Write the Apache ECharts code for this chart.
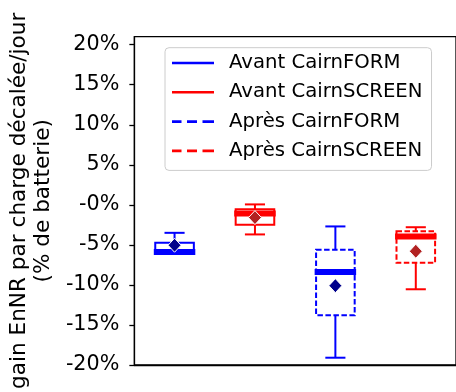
<!DOCTYPE html>
<html>
<head>
<meta charset="utf-8">
<script src="https://cdn.jsdelivr.net/npm/echarts@6/dist/echarts.min.js"></script>
<style>
html,body{margin:0;padding:0;background:#fff;}
#chart{width:456px;height:392px;}
</style>
</head>
<body>
<div id="chart"></div>
<script>
// ---- data ----
const categories = ['Avant CairnFORM', 'Avant CairnSCREEN', 'Après CairnFORM', 'Après CairnSCREEN'];
const boxMin    = [-6.1, -3.7, -19.1, -10.55];
const boxQ1     = [-6.1, -2.5, -13.8, -7.25];
const boxMedian = [-5.9, -1.1, -8.4, -3.95];
const boxQ3     = [-4.75, -0.55, -5.6, -3.3];
const boxMax    = [-3.5, 0.05, -2.7, -2.8];
const boxMean   = [-5.05, -1.6, -10.1, -5.8];
const tickValues = [-20, -15, -10, -5, 0, 5, 10, 15, 20];
const tickLabels = ['-20%', '-15%', '-10%', '-5%', '-0%', '5%', '10%', '15%', '20%'];

// ---- styles ----
const lineColors = ['#0000ff', '#ff0000', '#0000ff', '#ff0000'];
const meanColors = ['#00008b', '#b22222', '#00008b', '#b22222'];
const dashedBox  = [false, false, true, true];
const FONT = 'DejaVu Sans';

function makeRender(i) {
  return function (params, api) {
    const x = api.value(0);
    const band = api.size([1, 0])[0];
    const pt = function (v) { return api.coord([x, v]); };
    const cx = pt(api.value(1))[0];
    const yMin = pt(api.value(1))[1];
    const yQ1 = pt(api.value(2))[1];
    const yMed = pt(api.value(3))[1];
    const yQ3 = pt(api.value(4))[1];
    const yMax = pt(api.value(5))[1];
    const yMean = pt(api.value(6))[1];
    const hw = band * 0.24, cw = band * 0.125, mw = band * 0.258;
    const col = lineColors[i];
    const solid = {stroke: col, lineWidth: 2, fill: null};
    return {
      type: 'group',
      children: [
        {type: 'line', shape: {x1: cx, y1: yQ1, x2: cx, y2: yMin}, style: solid},
        {type: 'line', shape: {x1: cx, y1: yQ3, x2: cx, y2: yMax}, style: solid},
        {type: 'line', shape: {x1: cx - cw, y1: yMin, x2: cx + cw, y2: yMin}, style: solid},
        {type: 'line', shape: {x1: cx - cw, y1: yMax, x2: cx + cw, y2: yMax}, style: solid},
        {type: 'rect', shape: {x: cx - hw, y: yQ3, width: 2 * hw, height: yQ1 - yQ3},
          style: {stroke: col, lineWidth: 2, fill: null, lineDash: dashedBox[i] ? [5.5, 2.5] : null}},
        {type: 'line', shape: {x1: cx - mw, y1: yMed, x2: cx + mw, y2: yMed}, style: {stroke: col, lineWidth: 6}},
        {type: 'polygon', shape: {points: [[cx, yMean - 7], [cx + 6.5, yMean], [cx, yMean + 7], [cx - 6.5, yMean]]},
          style: {fill: meanColors[i], stroke: '#ffffff', lineWidth: 1}}
      ]
    };
  };
}

const series = categories.map(function (name, i) {
  return {
    type: 'custom',
    name: name,
    itemStyle: {color: lineColors[i]},
    renderItem: makeRender(i),
    encode: {x: 0, y: [1, 2, 3, 4, 5, 6]},
    data: [[i, boxMin[i], boxQ1[i], boxMedian[i], boxQ3[i], boxMax[i], boxMean[i]]],
    z: 3
  };
});

const solidIcon = 'path://M0,0H42V2.6H0Z';
const dashIcon = 'path://M0,0H9.5V2.6H0Z M15,0H25V2.6H15Z M30.5,0H42V2.6H30.5Z';

const chart = echarts.init(document.getElementById('chart'), null, {renderer: 'canvas'});
chart.setOption({
  animation: false,
  backgroundColor: '#ffffff',
  grid: {left: 133.3, top: 36.7, width: 330.4, bottom: 25.3, show: true, borderColor: '#000', borderWidth: 1.3, containLabel: false},
  legend: {
    orient: 'vertical', left: 165, top: 47.7,
    padding: [5.3, 9, 9.5, 7],
    itemGap: 9.3, itemWidth: 42, itemHeight: 2.6,
    borderColor: '#cccccc', borderWidth: 1, borderRadius: 4,
    backgroundColor: 'rgba(255,255,255,0.8)',
    textStyle: {fontFamily: FONT, fontSize: 19.7, color: '#000', lineHeight: 20, padding: [0, 0, 0, 10]},
    data: categories.map(function (name, i) {
      return {name: name, icon: dashedBox[i] ? dashIcon : solidIcon, itemStyle: {color: lineColors[i]}};
    })
  },
  xAxis: {
    type: 'category', data: categories,
    axisLabel: {show: false}, axisTick: {show: false},
    axisLine: {show: true, onZero: false, lineStyle: {color: '#000', width: 1.3}},
    splitLine: {show: false}
  },
  yAxis: {
    type: 'value', min: -20, max: 21,
    name: 'gain EnNR par charge décalée/jour\n(% de batterie)',
    nameLocation: 'middle', nameRotate: 90, nameGap: 75,
    nameTextStyle: {fontFamily: FONT, fontSize: 21.6, color: '#000', lineHeight: 23.5, align: 'center'},
    axisLine: {show: true, onZero: false, lineStyle: {color: '#000', width: 1.3}},
    axisTick: {show: true, length: 5, lineStyle: {color: '#000', width: 1.3}, customValues: tickValues},
    axisLabel: {
      fontFamily: FONT, fontSize: 20.7, color: '#000', margin: 15,
      customValues: tickValues,
      formatter: function (v) { const k = tickValues.indexOf(v); return k >= 0 ? tickLabels[k] : ''; }
    },
    splitLine: {show: false}
  },
  series: series
});
</script>
</body>
</html>
